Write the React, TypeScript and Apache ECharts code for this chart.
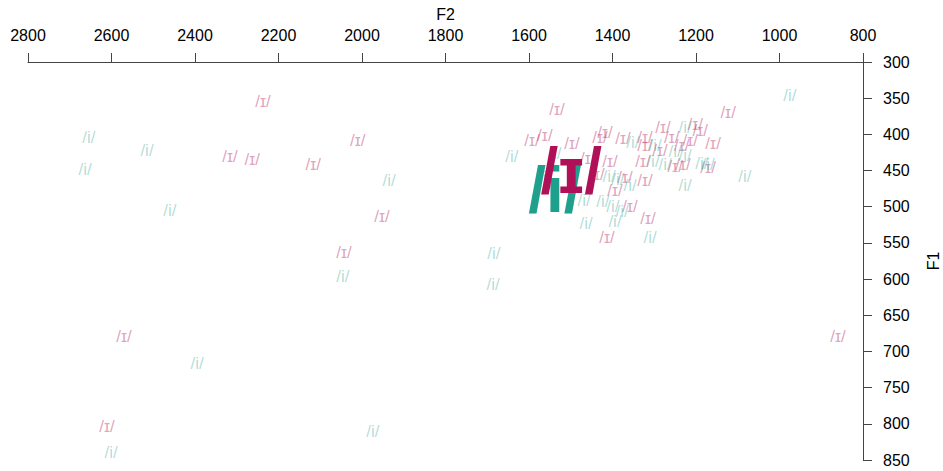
import React, { useEffect, useRef } from "react";
import * as echarts from "echarts";

// Axis ranges / ticks
const f2Ticks = [2800, 2600, 2400, 2200, 2000, 1800, 1600, 1400, 1200, 1000, 800];
const f1Ticks = [300, 350, 400, 450, 500, 550, 600, 650, 700, 750, 800, 850];

// /ɪ/ tokens
const ihF2 = [2237, 2316, 2263, 2117, 2010, 1952, 2043, 2570, 2611, 860, 1123, 1159, 1533, 1593, 1562, 1497, 1430, 1418, 1375, 1322, 1322, 1286, 1279, 1258, 1234, 1214, 1202, 1190, 1459, 1406, 1437, 1327, 1370, 1322, 1250, 1231, 1171, 1358, 1315, 1394, 1413];
const ihF1 = [355, 431, 435, 441, 409, 513, 563, 679, 804, 679, 370, 412, 366, 408, 401, 412, 404, 398, 406, 405, 415, 422, 391, 404, 415, 408, 387, 394, 433, 438, 456, 438, 459, 464, 445, 442, 446, 500, 516, 477, 543];

// /i/ tokens
const iyF2 = [2654, 2515, 2663, 2460, 1935, 2046, 1684, 1686, 2395, 2601, 1974, 975, 1083, 1641, 1538, 1562, 1468, 1463, 1423, 1394, 1399, 1408, 1387, 1358, 1351, 1303, 1274, 1298, 1226, 1250, 1226, 1186, 1226, 1310, 1377, 1171];
const iyF1 = [405, 422, 448, 505, 464, 597, 564, 608, 717, 840, 811, 346, 458, 431, 426, 459, 492, 523, 493, 521, 500, 458, 463, 470, 411, 438, 442, 415, 391, 424, 470, 440, 429, 542, 507, 442];

// Means
const vowelLabels = ["/ɪ/", "/i/"];
const meanF2 = [1499, 1538];
const meanF1 = [451, 477];

const pink = "#B01058";
const teal = "#1FA08C";
const pinkLight = "rgba(176,16,88,0.40)";
const tealLight = "rgba(31,160,140,0.36)";
const FONT = "'Liberation Sans', Arial, 'DejaVu Sans', sans-serif";

function pts(xs: number[], ys: number[]) {
  return xs.map((x, i) => [x, ys[i]]);
}

export default function App() {
  const ref = useRef<HTMLDivElement>(null);
  useEffect(() => {
    if (!ref.current) return;
    const chart = echarts.init(ref.current, undefined, { renderer: "svg" });
    const labelSeries = (name: string, data: number[][], text: string, color: string, size: number, bold: boolean) => ({
      name,
      type: "scatter",
      data,
      symbol: "circle",
      symbolSize: 1,
      silent: true,
      itemStyle: { color: "rgba(0,0,0,0)", opacity: 1 },
      label: {
        show: true,
        position: "inside",
        formatter: text,
        color,
        opacity: 1,
        fontSize: size,
        fontWeight: bold ? "bold" : "normal",
        fontFamily: FONT,
        align: "center",
        verticalAlign: "middle",
      },
      emphasis: { disabled: true },
      z: bold ? 10 : 2,
    });
    chart.setOption({
      animation: false,
      backgroundColor: "#ffffff",
      grid: { left: 28, right: 80, top: 62, bottom: 11, containLabel: false, outerBoundsMode: "none" },
      xAxis: {
        type: "value",
        position: "top",
        min: f2Ticks[f2Ticks.length - 1],
        max: f2Ticks[0],
        interval: 200,
        inverse: true,
        name: "F2",
        nameLocation: "middle",
        nameGap: 36,
        nameTextStyle: { color: "#000", fontSize: 16, fontFamily: FONT },
        axisLine: { show: true, onZero: false, lineStyle: { color: "#444", width: 1 } },
        axisTick: { show: true, length: 9, lineStyle: { color: "#444" } },
        axisLabel: { color: "#000", fontSize: 16, fontFamily: FONT, margin: 19, formatter: (v: number) => String(v) },
        splitLine: { show: false },
      },
      yAxis: {
        type: "value",
        position: "right",
        min: f1Ticks[0],
        max: f1Ticks[f1Ticks.length - 1],
        interval: 50,
        inverse: true,
        name: "F1",
        nameLocation: "middle",
        nameGap: 62,
        nameRotate: 90,
        nameTextStyle: { color: "#000", fontSize: 16, fontFamily: FONT },
        axisLine: { show: true, onZero: false, lineStyle: { color: "#444", width: 1 } },
        axisTick: { show: true, length: 9, lineStyle: { color: "#444" } },
        axisLabel: { color: "#000", fontSize: 16, fontFamily: FONT, margin: 20, formatter: (v: number) => String(v) },
        splitLine: { show: false },
      },
      series: [
        labelSeries("ih", pts(ihF2, ihF1), vowelLabels[0], pinkLight, 17, false),
        labelSeries("iy", pts(iyF2, iyF1), vowelLabels[1], tealLight, 17, false),
        labelSeries("iyMean", [[meanF2[1], meanF1[1]]], vowelLabels[1], teal, 64, true),
        labelSeries("ihMean", [[meanF2[0], meanF1[0]]], vowelLabels[0], pink, 64, true),
      ],
    });
    return () => chart.dispose();
  }, []);
  return (
    <div
      ref={ref}
      style={{ position: "fixed", left: 0, top: 0, width: 943, height: 471 }}
    />
  );
}
